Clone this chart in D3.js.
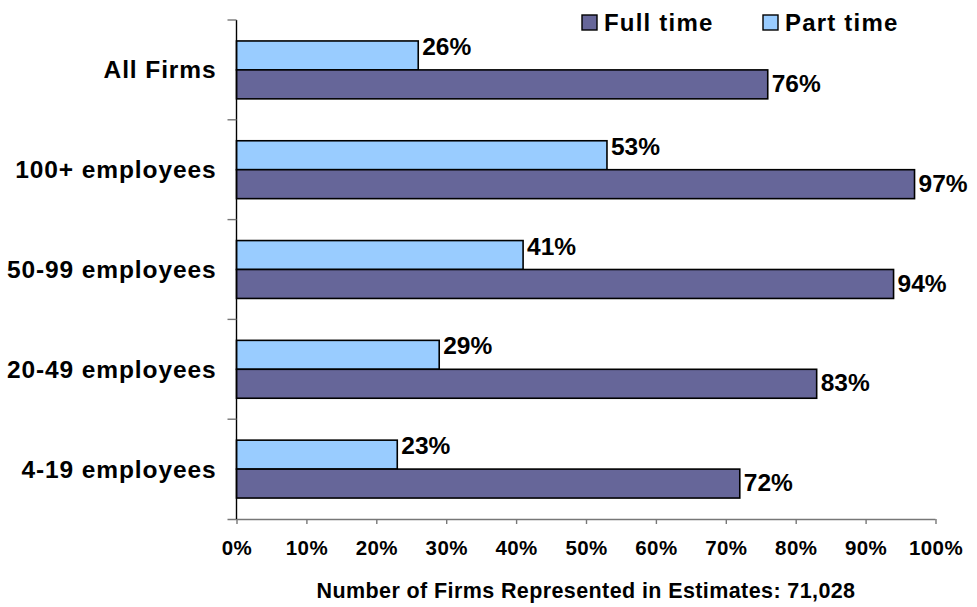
<!DOCTYPE html>
<html>
<head>
<meta charset="utf-8">
<script src="https://cdn.jsdelivr.net/npm/d3@7"></script>
<style>
  html, body { margin: 0; padding: 0; background: #fff; }
  svg { display: block; }
  text { font-family: "Liberation Sans", Arial, sans-serif; font-weight: bold; fill: #000; }
</style>
</head>
<body>
<svg id="chart" width="977" height="607"></svg>
<script>
// Firm size categories, top to bottom
const categories = ["All Firms", "100+ employees", "50-99 employees", "20-49 employees", "4-19 employees"];
// Share of firms offering benefits, percent
const partTime = [26, 53, 41, 29, 23];
const fullTime = [76, 97, 94, 83, 72];
const seriesNames = ["Part time", "Full time"];
const legendOrder = ["Full time", "Part time"];
const xTicks = [0, 10, 20, 30, 40, 50, 60, 70, 80, 90, 100];
const axisTitle = "Number of Firms Represented in Estimates: 71,028";

const colors = { "Full time": "#666699", "Part time": "#99CCFF" };
const seriesValues = { "Part time": partTime, "Full time": fullTime };

const svg = d3.select("#chart");
const margin = { left: 236.5, right: 41.5, top: 20, bottom: 88 };
const W = 977, H = 607;

const x = d3.scaleLinear().domain([0, 100]).range([margin.left, W - margin.right]);
const y = d3.scaleBand().domain(categories).range([margin.top, H - margin.bottom])
  .paddingInner(0.42).paddingOuter(0.21);
const ySub = d3.scaleBand().domain(seriesNames).range([0, y.bandwidth()]);

const rows = categories.map((c, i) => ({ cat: c, values: seriesNames.map(s => ({ s, v: seriesValues[s][i] })) }));

// bars
const groups = svg.append("g").selectAll("g").data(rows).join("g")
  .attr("transform", d => `translate(0,${y(d.cat)})`);

groups.selectAll("rect").data(d => d.values).join("rect")
  .attr("x", x(0))
  .attr("y", d => ySub(d.s))
  .attr("width", d => x(d.v) - x(0))
  .attr("height", ySub.bandwidth())
  .attr("fill", d => colors[d.s])
  .attr("stroke", "#000")
  .attr("stroke-width", 1.6);

// value labels
groups.selectAll("text.val").data(d => d.values).join("text")
  .attr("class", "val")
  .attr("x", d => x(d.v) + 4)
  .attr("y", d => ySub(d.s) + ySub.bandwidth() / 2 + (d.s === "Part time" ? -9 : -1))
  .attr("dy", "0.35em")
  .style("font-size", "24.5px")
  .text(d => d.v + "%");

// x axis
const xAxis = d3.axisBottom(x).tickValues(xTicks).tickFormat(d => d + "%").tickSize(5).tickPadding(16);
const gx = svg.append("g").attr("transform", `translate(0,${H - margin.bottom})`).call(xAxis);
gx.select(".domain").attr("d", `M${x(0) - 9},0.5H${x(100)}`).attr("stroke", "#777").attr("stroke-width", 1.4);
gx.selectAll(".tick line").attr("stroke", "#777").attr("stroke-width", 1.4);
gx.selectAll(".tick text").style("font-size", "20.5px").style("letter-spacing", "0.4px")
  .attr("font-family", null).attr("fill", "#000");

// y axis: tick marks at band boundaries
const yEdges = d3.range(categories.length + 1).map(i => margin.top + i * y.step());
const gy = svg.append("g");
gy.append("line").attr("x1", x(0)).attr("x2", x(0))
  .attr("y1", margin.top).attr("y2", H - margin.bottom)
  .attr("stroke", "#000").attr("stroke-width", 1.4);
gy.selectAll("line.t").data(yEdges.slice(0, -1)).join("line").attr("class", "t")
  .attr("x1", x(0) - 9).attr("x2", x(0))
  .attr("y1", d => d).attr("y2", d => d)
  .attr("stroke", "#777").attr("stroke-width", 1.4);

// category labels
svg.append("g").selectAll("text").data(categories).join("text")
  .attr("x", x(0) - 20)
  .attr("y", d => y(d) + y.bandwidth() / 2)
  .attr("dy", "0.35em")
  .attr("text-anchor", "end")
  .style("font-size", "24.5px")
  .style("letter-spacing", "0.9px")
  .text(d => d);

// axis title
svg.append("text")
  .attr("x", (x(0) + x(100)) / 2)
  .attr("y", 598)
  .attr("text-anchor", "middle")
  .style("font-size", "21.5px")
  .style("letter-spacing", "0.4px")
  .text(axisTitle);

// legend
const legendX = [582, 763];
const lg = svg.append("g").selectAll("g").data(legendOrder).join("g")
  .attr("transform", (d, i) => `translate(${legendX[i]},15)`);
lg.append("rect").attr("width", 15).attr("height", 15)
  .attr("fill", d => colors[d]).attr("stroke", "#000").attr("stroke-width", 1.4);
lg.append("text").attr("x", 22).attr("y", 8).attr("dy", "0.35em")
  .style("font-size", "24px").style("letter-spacing", "1.2px")
  .text(d => d);
</script>
</body>
</html>
